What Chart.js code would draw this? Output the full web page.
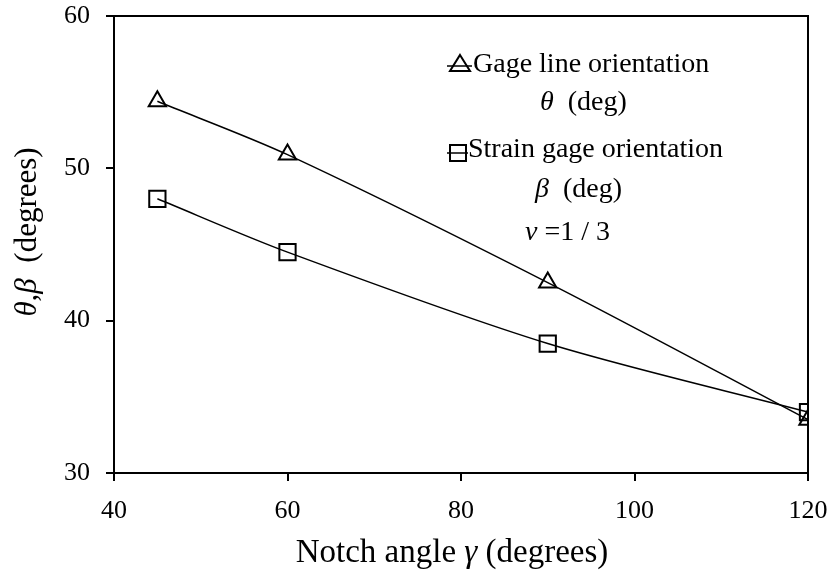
<!DOCTYPE html>
<html>
<head>
<meta charset="utf-8">
<script src="https://cdn.jsdelivr.net/npm/chart.js@4"></script>
<style>
    html, body { margin: 0; padding: 0; background: #fff; }
    #wrap { width: 830px; height: 573px; }
</style>
</head>
<body>
<div id="wrap"><canvas id="notch-chart" width="830" height="573"></canvas></div>
<script>
// notch angle (deg) vs orientation angles
const notchAngles = [45, 60, 90, 120];
const gageLineTheta = [54.4, 50.9, 42.5, 33.5];
const strainGageBeta = [48.0, 44.5, 38.5, 34.0];
const xTicks = [40, 60, 80, 100, 120];
const yTicks = [30, 40, 50, 60];

const SERIF = '"Liberation Serif", "Times New Roman", serif';

function toPoints(xs, ys) {
    return xs.map((x, i) => ({ x: x, y: ys[i] }));
}

// draw a run of text pieces, some italic, starting at x
function drawPieces(ctx, pieces, x, y, size) {
    let cx = x;
    pieces.forEach(p => {
        ctx.font = (p.italic ? 'italic ' : '') + size + 'px ' + SERIF;
        ctx.fillText(p.text, cx, y);
        cx += ctx.measureText(p.text).width;
    });
}

function piecesWidth(ctx, pieces, size) {
    let w = 0;
    pieces.forEach(p => {
        ctx.font = (p.italic ? 'italic ' : '') + size + 'px ' + SERIF;
        w += ctx.measureText(p.text).width;
    });
    return w;
}

const frameAndText = {
    id: 'frameAndText',
    afterDraw(chart) {
        const ctx = chart.ctx;
        const area = chart.chartArea;
        ctx.save();

        // top and right frame lines
        ctx.strokeStyle = '#000';
        ctx.lineWidth = 2;
        ctx.beginPath();
        ctx.moveTo(area.left, area.top);
        ctx.lineTo(area.right, area.top);
        ctx.lineTo(area.right, area.bottom);
        ctx.stroke();

        ctx.fillStyle = '#000';
        ctx.textBaseline = 'alphabetic';
        ctx.textAlign = 'left';

        // x axis title
        const xTitle = [
            { text: 'Notch angle ' },
            { text: 'γ', italic: true },
            { text: ' (degrees)' }
        ];
        const xw = piecesWidth(ctx, xTitle, 33);
        drawPieces(ctx, xTitle, 452 - xw / 2, 562, 33);

        // y axis title, rotated
        const yTitle = [
            { text: 'θ,β', italic: true },
            { text: '  (degrees)' }
        ];
        const yw = piecesWidth(ctx, yTitle, 31);
        ctx.save();
        ctx.translate(36, 232);
        ctx.rotate(-Math.PI / 2);
        drawPieces(ctx, yTitle, -yw / 2, 0, 31);
        ctx.restore();

        // legend marker: triangle with line
        ctx.lineWidth = 1.5;
        ctx.beginPath();
        ctx.moveTo(447, 66);
        ctx.lineTo(472, 66);
        ctx.stroke();
        ctx.lineWidth = 2;
        ctx.beginPath();
        ctx.moveTo(460, 55);
        ctx.lineTo(470, 71);
        ctx.lineTo(450, 71);
        ctx.closePath();
        ctx.stroke();

        // legend marker: square with line
        ctx.lineWidth = 1.5;
        ctx.beginPath();
        ctx.moveTo(447, 153);
        ctx.lineTo(468, 153);
        ctx.stroke();
        ctx.lineWidth = 2;
        ctx.strokeRect(450, 145, 16, 16);

        drawPieces(ctx, [{ text: 'Gage line orientation' }], 473, 72, 28);
        drawPieces(ctx, [{ text: 'θ', italic: true }, { text: '  (deg)' }], 540, 110, 28);
        drawPieces(ctx, [{ text: 'Strain gage orientation' }], 468, 157, 28);
        drawPieces(ctx, [{ text: 'β', italic: true }, { text: '  (deg)' }], 535, 197, 28);
        drawPieces(ctx, [{ text: 'ν', italic: true }, { text: ' =1 / 3' }], 525, 240, 28);

        ctx.restore();
    }
};

const canvas = document.querySelector('#notch-chart');

new Chart(canvas, {
    type: 'line',
    data: {
        datasets: [{
            label: 'Gage line orientation',
            data: toPoints(notchAngles, gageLineTheta),
            borderColor: '#000',
            borderWidth: 1.5,
            tension: 0.3,
            fill: false,
            pointStyle: 'triangle',
            pointRadius: 10,
            pointBorderWidth: 2,
            pointBorderColor: '#000',
            pointBackgroundColor: 'rgba(255,255,255,0)'
        }, {
            label: 'Strain gage orientation',
            data: toPoints(notchAngles, strainGageBeta),
            borderColor: '#000',
            borderWidth: 1.5,
            tension: 0.3,
            fill: false,
            pointStyle: 'rect',
            pointRadius: 11.5,
            pointBorderWidth: 2,
            pointBorderColor: '#000',
            pointBackgroundColor: 'rgba(255,255,255,0)'
        }]
    },
    options: {
        responsive: false,
        animation: false,
        events: [],
        layout: {
            padding: { top: 16, right: 22, left: 0, bottom: 0 }
        },
        scales: {
            x: {
                type: 'linear',
                min: 40,
                max: 120,
                afterBuildTicks: scale => {
                    scale.ticks = xTicks.map(v => ({ value: v }));
                },
                afterFit: scale => {
                    scale.height = 100;
                    scale.paddingLeft = 0;
                    scale.paddingRight = 0;
                },
                grid: {
                    drawOnChartArea: false,
                    drawTicks: true,
                    tickLength: 8,
                    color: '#000',
                    lineWidth: 2
                },
                border: { display: true, color: '#000', width: 2 },
                ticks: {
                    color: '#000',
                    padding: 15,
                    maxRotation: 0,
                    font: { family: SERIF, size: 26 }
                }
            },
            y: {
                type: 'linear',
                min: 30,
                max: 60,
                afterBuildTicks: scale => {
                    scale.ticks = yTicks.map(v => ({ value: v }));
                },
                afterFit: scale => {
                    scale.width = 114;
                    scale.paddingTop = 0;
                    scale.paddingBottom = 0;
                },
                grid: {
                    drawOnChartArea: false,
                    drawTicks: true,
                    tickLength: 8,
                    color: '#000',
                    lineWidth: 2
                },
                border: { display: true, color: '#000', width: 2 },
                ticks: {
                    color: '#000',
                    padding: 16,
                    font: { family: SERIF, size: 26 }
                }
            }
        },
        plugins: {
            legend: { display: false },
            tooltip: { enabled: false }
        }
    },
    plugins: [frameAndText]
});
</script>
</body>
</html>
